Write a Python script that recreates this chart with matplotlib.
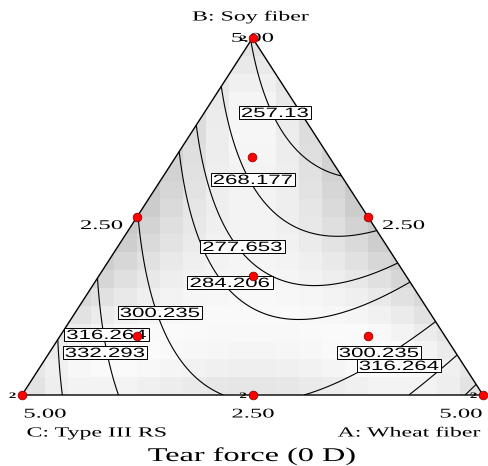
import numpy as np
import matplotlib
matplotlib.use("Agg")
import matplotlib.pyplot as plt
import matplotlib.tri as mtri
from matplotlib.path import Path
from matplotlib.patches import Polygon
from matplotlib.transforms import Affine2D, offset_copy
from matplotlib.patheffects import AbstractPathEffect

# ---- mixture components (amounts, total = 5.00) ----
component_names = ["A: Wheat fiber", "B: Soy fiber", "C: Type III RS"]
mixture_total = 5.00
axis_ticks = [2.50, 5.00]

# ---- Scheffe quadratic model for tear force (0 D), pseudo-fractions ----
linear_coefs = [338.5, 256.5, 347.0]     # A, B, C
blend_coefs = [-131.0, -175.0, -5.0]     # AB, AC, BC
contour_levels = [257.13, 268.177, 277.653, 284.206, 300.235, 316.264, 332.293]

# ---- design runs (A, B, C amounts) and replicate counts ----
run_A = [5.00, 0.00, 0.00, 2.50, 2.50, 0.00, 1.6667, 3.3333, 0.8333, 0.8333]
run_B = [0.00, 5.00, 0.00, 2.50, 0.00, 2.50, 1.6667, 0.8333, 3.3333, 0.8333]
run_C = [0.00, 0.00, 5.00, 0.00, 2.50, 2.50, 1.6667, 0.8333, 0.8333, 3.3333]
run_reps = [2, 2, 2, 1, 2, 1, 1, 1, 1, 1]

title = "Tear force (0 D)"


def predict(a, b, c):
    return (linear_coefs[0] * a + linear_coefs[1] * b + linear_coefs[2] * c
            + blend_coefs[0] * a * b + blend_coefs[1] * a * c + blend_coefs[2] * b * c)


def model_terms(a, b, c):
    return np.stack([a, b, c, a * b, a * c, b * c], axis=-1)


def to_xy(a, b):
    # C at (0, 0), A at (1, 0), B at (0.5, 1)
    return a + 0.5 * b, b


class Widen(AbstractPathEffect):
    """Draw glyphs widened horizontally about the centre of the line."""

    def __init__(self, sx):
        super().__init__()
        self.sx = sx

    def draw_path(self, renderer, gc, tpath, affine, rgbFace=None):
        v = tpath.vertices
        if tpath.codes is not None:
            v = v[tpath.codes != Path.CLOSEPOLY]
        cx = 0.5 * (v[:, 0].min() + v[:, 0].max()) if len(v) else 0.0
        pre = Affine2D().translate(-cx, 0).scale(self.sx, 1.0).translate(cx, 0)
        renderer.draw_path(gc, tpath, pre + affine, rgbFace)


def wide_box(sx, pad=2.0):
    def box(x0, y0, width, height, mutation_size):
        cx = x0 + width / 2
        hw = width * sx / 2 + pad
        y_lo = y0 + 0.21 * mutation_size - 1.5
        y_hi = y0 + height + 2.5
        return Path([(cx - hw, y_lo), (cx + hw, y_lo), (cx + hw, y_hi),
                     (cx - hw, y_hi), (cx - hw, y_lo)], closed=True)
    return box


W, H = 488, 466
fig = plt.figure(figsize=(W / 100, H / 100), dpi=100)
fig.patch.set_facecolor("white")
ax = fig.add_axes([22 / W, (H - 395) / H, 461 / W, 357 / H])
ax.set_xlim(0, 1)
ax.set_ylim(0, 1)
ax.axis("off")
pix = Affine2D().scale(1, -1).translate(0, H)   # pixel coords from top-left

tri_outline = Polygon([[0, 0], [1, 0], [0.5, 1]], closed=True,
                      transform=ax.transData)

# ---- design standard-error shading on a coarse grid ----
ra = np.repeat(np.array(run_A) / mixture_total, run_reps)
rb = np.repeat(np.array(run_B) / mixture_total, run_reps)
rc = np.repeat(np.array(run_C) / mixture_total, run_reps)
Xd = model_terms(ra, rb, rc)
Minv = np.linalg.inv(Xd.T @ Xd)
ncell = 20
edges = np.linspace(0, 1, ncell + 1)
cen = 0.5 * (edges[:-1] + edges[1:])
CX, CY = np.meshgrid(cen, cen)
comp = np.stack([CX - CY / 2, CY, 1 - (CX - CY / 2) - CY])
comp = np.clip(comp, 0, None)
comp /= comp.sum(axis=0)
F = model_terms(comp[0], comp[1], comp[2])
se = np.sqrt(np.einsum("...i,ij,...j->...", F, Minv, F))
shade = 0.985 - 0.20 * (se - se.min()) / (se.max() - se.min())
img = ax.imshow(shade, extent=(0, 1, 0, 1), origin="lower", cmap="gray",
                vmin=0, vmax=1, interpolation="nearest", aspect="auto", zorder=0)
img.set_clip_path(tri_outline)

# ---- contour lines of the fitted surface ----
n = 90
ii, jj = np.meshgrid(np.arange(n + 1), np.arange(n + 1))
keep = ii + jj <= n
ga = ii[keep] / n
gb = jj[keep] / n
gc_ = 1 - ga - gb
gx, gy = to_xy(ga, gb)
triang = mtri.Triangulation(gx, gy)
ax.tricontour(triang, predict(ga, gb, gc_), levels=contour_levels,
              colors="black", linewidths=0.8, zorder=2)

ax.add_patch(Polygon([[0, 0], [1, 0], [0.5, 1]], closed=True, fill=False,
                     edgecolor="black", linewidth=1.0, zorder=3, clip_on=False))

# ---- contour labels ----
label_spots = [(257.13, 275, 117), (268.177, 253, 184), (277.653, 242.5, 251),
               (284.206, 230, 287), (300.235, 160, 317), (316.264, 106.5, 339),
               (332.293, 105, 357), (300.235, 379, 357), (316.264, 399, 370)]
sx_lab = 1.65
for k, (lv, px, py) in enumerate(label_spots):
    ax.text(px, py, f"{lv:g}", transform=pix, ha="center", va="baseline",
            family="Liberation Sans", fontsize=9.7, color="black",
            path_effects=[Widen(sx_lab)], zorder=4 + 0.01 * k,
            bbox=dict(boxstyle=wide_box(sx_lab), facecolor="white",
                      edgecolor="black", linewidth=0.7))

# ---- design points ----
px_pts, py_pts = to_xy(np.array(run_A) / mixture_total, np.array(run_B) / mixture_total)
ax.plot(px_pts, py_pts, "o", ms=6.3, mfc="#ff0000", mec="#800000", mew=0.5,
        clip_on=False, zorder=7)
rep_tf = offset_copy(ax.transData, fig=fig, x=-9.5, y=-1.0, units="dots")
for x, y, r in zip(px_pts, py_pts, run_reps):
    if r > 1:
        ax.text(x, y, str(r), transform=rep_tf, ha="center", va="center",
                family="Liberation Serif", fontweight="bold", fontsize=6,
                path_effects=[Widen(1.8)], zorder=6)

# ---- axis labels and ticks ----
serif = dict(family="Liberation Serif", color="black", zorder=5)
tick_fmt = [f"{t:.2f}" for t in axis_ticks]
tick_spots = [(252.5, 41.7, 1), (101.5, 229, 0), (403.5, 229, 0),
              (45, 417.5, 1), (253, 417.5, 0), (461, 417.5, 1)]
for px, py, k in tick_spots:
    ax.text(px, py, tick_fmt[k], transform=pix, ha="center", va="baseline",
            fontsize=9.6, path_effects=[Widen(1.85)], **serif)

ax.text(250.5, 20.5, component_names[1], transform=pix, ha="center", va="baseline",
        fontsize=10, path_effects=[Widen(1.72)], **serif)
ax.text(96.5, 436.5, component_names[2], transform=pix, ha="center", va="baseline",
        fontsize=10, path_effects=[Widen(1.72)], **serif)
ax.text(409, 436.5, component_names[0], transform=pix, ha="center", va="baseline",
        fontsize=10, path_effects=[Widen(1.72)], **serif)
ax.text(252, 461, title, transform=pix, ha="center", va="baseline",
        fontsize=14, path_effects=[Widen(1.66)], **serif)

fig.savefig("out.png", dpi=100, facecolor="white")
